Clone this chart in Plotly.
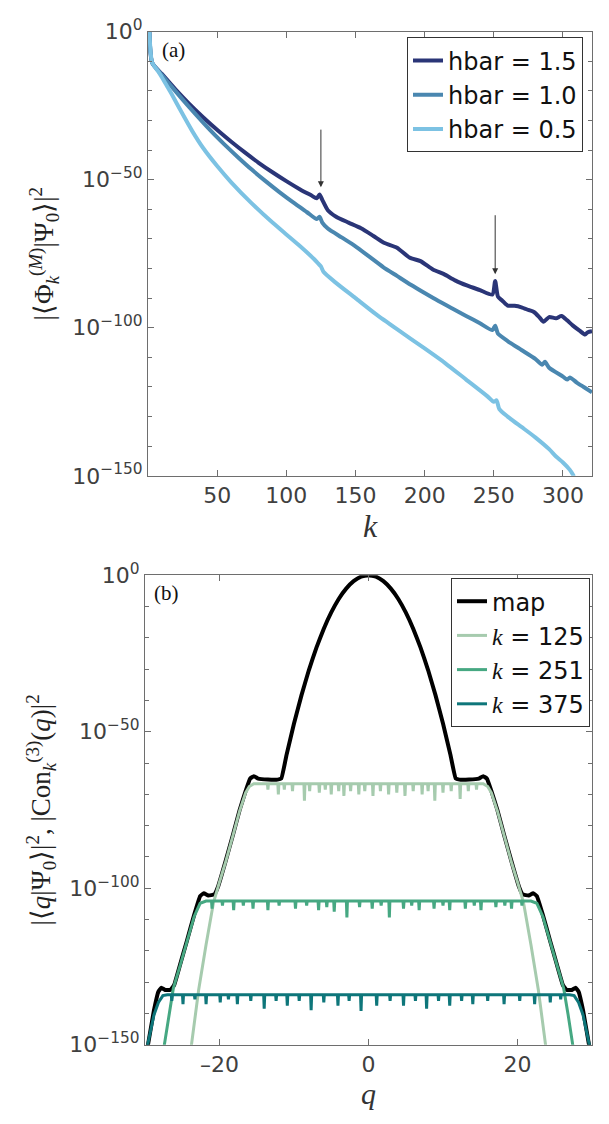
import plotly.graph_objects as go

# ---------------- Panel (a): log10 |<Phi_k^(M)|Psi_0>|^2 versus k ----------------
k_h15 = [1, 3, 10, 20, 30, 40, 52, 60, 70, 80, 90, 100, 110, 118, 122, 124, 126, 130, 136, 145,
         154, 163, 171, 180, 189, 197, 206, 214, 222, 231, 240, 249, 251, 253, 256, 260, 265, 270,
         275, 279, 283, 286, 290, 295, 299, 303, 307, 312, 316, 318, 321]
v_h15 = [0, -10.5, -14.3, -19.6, -24.5, -29.0, -34.0, -37.1, -40.8, -44.3, -47.5, -50.5, -53.3, -55.3,
         -56.3, -55.0, -56.8, -60.3, -62.5, -64.5, -66.4, -69.0, -71.4, -73.0, -76.3, -77.5, -80.3,
         -81.9, -84.0, -85.8, -87.3, -88.8, -84.2, -89.5, -90.8, -92.5, -92.6, -93.1, -94.0, -94.7,
         -96.5, -98.0, -96.4, -96.8, -96.0, -97.5, -99.2, -101.0, -102.3, -101.5, -101.2]

k_h10 = [1, 3, 10, 20, 30, 46, 55, 65, 75, 85, 95, 105, 115, 122, 124, 126, 130, 140, 150, 160,
         170, 180, 190, 200, 210, 220, 230, 240, 249, 251, 253, 260, 270, 280, 285, 287, 290, 300,
         303, 305, 310, 315, 321]
v_h10 = [0, -10.5, -14.6, -20.2, -25.6, -33.8, -38.0, -42.4, -46.6, -50.5, -54.2, -57.7, -61.0,
         -63.3, -62.5, -64.5, -66.5, -69.5, -72.5, -76.0, -79.5, -82.5, -85.5, -88.3, -91.0, -93.5,
         -96.0, -98.5, -100.8, -99.3, -102.0, -104.5, -107.5, -110.5, -112.5, -111.5, -113.5,
         -116.5, -117.5, -116.8, -118.5, -120.0, -121.8]

k_h05 = [1, 3, 7, 10, 14, 17, 24, 32, 40, 50, 60, 75, 90, 100, 110, 120, 123, 125, 127, 135, 150,
         165, 180, 200, 215, 230, 245, 250, 252, 254, 260, 270, 280, 290, 295, 300, 305, 308]
v_h05 = [0, -10.5, -13.2, -15.4, -18.6, -21.0, -27.0, -33.6, -39.4, -45.4, -50.8, -58.0, -64.5,
         -68.5, -72.5, -76.8, -78.3, -79.3, -81.2, -84.5, -90.0, -95.5, -100.5, -107.0, -112.0,
         -117.5, -123.0, -125.0, -124.5, -127.5, -130.0, -133.5, -137.0, -141.0, -143.5, -145.5,
         -148.0, -150.2]

series_a = [("hbar = 1.5", k_h15, v_h15, "#2a3577"),
            ("hbar = 1.0", k_h10, v_h10, "#4a87b0"),
            ("hbar = 0.5", k_h05, v_h05, "#7cc2e3")]

# arrows (k, log10 tail, log10 head)
arrows_a = [(125, -32.6, -52.6), (251, -61.5, -81.9)]

# ---------------- Panel (b): log10 |<q|Psi_0>|^2 and |Con_k^(3)(q)|^2 versus q ----------------
map_q = [-30, -29.6, -28.8, -28.2, -27.8, -27.3, -26.6, -26.1, -25.3, -24.4, -23.4, -22.6, -22.1,
         -21.5, -20.7, -20.2, -19.2, -18.2, -17.3, -16.5, -15.9, -15.4, -14.8, -13.5, -12.2, -11.7,
         -11, -10, -9, -8, -7, -6, -5, -4, -3, -2, -1, 0, 1, 2, 3, 4, 5, 6, 7, 8, 9, 10, 11, 11.7,
         12.2, 13.5, 14.8, 15.4, 15.9, 16.5, 17.3, 18.2, 19.2, 20.2, 20.7, 21.5, 22.1, 22.6, 23.4,
         24.4, 25.3, 26.1, 26.6, 27.3, 27.8, 28.2, 28.8, 29.6, 30]
map_v = [-154, -150, -139, -133, -131.8, -132.5, -132.5, -131, -124.5, -117, -108.5, -102.5, -101.6,
         -102.3, -102, -99.5, -91.5, -83, -75, -69, -65, -64.2, -65, -65.3, -65.3, -64.9,
         -57.4, -47.4, -38.4, -30.3, -23.2, -17.1, -11.9, -7.6, -4.3, -1.9, -0.47, 0, -0.47, -1.9,
         -4.3, -7.6, -11.9, -17.1, -23.2, -30.3, -38.4, -47.4, -57.4, -64.9,
         -65.3, -65.3, -65, -64.2, -65, -69, -75, -83, -91.5, -99.5, -102, -102.3, -101.6, -102.5,
         -108.5, -117, -124.5, -131, -132.5, -132.5, -131.8, -133, -139, -150, -154]

k125_q = [-24.2, -23.6, -22.8, -21.8, -20.8, -20.0, -19.2, -18.2, -17.3, -16.5, -16.0, -15.4,
          15.4, 16.0, 16.5, 17.3, 18.2, 19.2, 20.0, 20.8, 21.8, 22.8, 23.6, 24.2]
k125_v = [-158, -147, -132.5, -118, -104.5, -98, -91.8, -83.2, -75.3, -69.5, -67.5, -66.6,
          -66.6, -67.5, -69.5, -75.3, -83.2, -91.8, -98, -104.5, -118, -132.5, -147, -158]
k125_base = -66.6
k125_dip_q = [-13.5, -12.1, -11.3, -10.2, -8.6, -7.9, -6.6, -5.8, -5.0, -4.0, -3.3, -2.4, -1.3,
              -0.5, 0.6, 1.6, 2.7, 3.8, 4.9, 6.0, 7.2, 8.0, 8.9, 10.0, 11.1, 12.3, 13.4, 14.5]
k125_dip_v = [-68.5, -70, -68.5, -69, -72, -69, -69.5, -68.5, -70, -69, -70.5, -69, -70, -69,
              -70.5, -69, -70, -69.5, -70.5, -69, -70, -69, -72, -69.5, -69, -71.5, -69, -68.5]

k251_q = [-27.8, -27.4, -26.8, -26.2, -25.3, -24.4, -23.4, -22.6, -21.8,
          21.8, 22.6, 23.4, 24.4, 25.3, 26.2, 26.8, 27.4, 27.8]
k251_v = [-156, -150, -140.5, -132, -124.8, -117.2, -109, -104.8, -104.1,
          -104.1, -104.8, -109, -117.2, -124.8, -132, -140.5, -150, -156]
k251_base = -104.1
k251_dip_q = [-21.0, -19.6, -18.1, -16.8, -15.5, -13.5, -12.0, -9.8, -8.3, -6.7, -5.6, -4.6, -2.9,
              -1.2, 0.5, 1.7, 2.8, 4.7, 5.8, 6.8, 8.8, 10.0, 10.9, 13.0, 14.2, 15.1, 17.1, 18.3,
              19.2, 20.6]
k251_dip_v = [-106.5, -105.5, -107, -105.5, -106.5, -107, -105.5, -106.5, -105.5, -107, -106,
              -107.5, -109.3, -106, -106.5, -105.5, -109.3, -106.5, -105.5, -107, -106.5, -105.5,
              -107, -106.5, -105.5, -107, -106, -105.5, -106.5, -105.5]

k375_q = [-30.0, -29.5, -28.8, -28.2, -27.6, -27.0, 27.0, 27.6, 28.2, 28.8, 29.5, 30.0]
k375_v = [-154, -148, -140.5, -136.5, -134.3, -134.0, -134.0, -134.3, -136.5, -140.5, -148, -154]
k375_base = -134.0
k375_dip_q = [-26.4, -24.9, -23.3, -21.8, -19.9, -18.8, -17.6, -15.8, -14.0, -12.4, -10.9, -9.3,
              -7.7, -6.0, -4.1, -2.6, -1.0, 1.1, 2.9, 4.7, 6.3, 7.8, 9.4, 10.9, 12.5, 14.0, 16.0,
              18.2, 20.3, 22.3, 24.4, 25.8]
k375_dip_v = [-136, -137, -135.5, -137, -136.5, -135.5, -137, -136, -138.5, -136, -137.5, -136,
              -139, -136.5, -137.5, -136, -139.2, -137.5, -136, -137.5, -136, -138.5, -136, -137.5,
              -136, -137, -136, -137, -136, -137, -136.5, -135.5]


def with_dips(shape_q, shape_v, base, dip_q, dip_v, half=0.07):
    pts = list(zip(shape_q, shape_v))
    for q, v in zip(dip_q, dip_v):
        pts += [(q - half, base), (q, v), (q + half, base)]
    pts.sort(key=lambda p: p[0])
    return [p[0] for p in pts], [10 ** p[1] for p in pts]


series_b = [
    ("map", map_q, [10 ** v for v in map_v], "#000000", 4, "spline"),
    ("<span style='font-family:Liberation Serif'><i>k</i></span> = 125",
     *with_dips(k125_q, k125_v, k125_base, k125_dip_q, k125_dip_v), "#a6cbae", 3, "linear"),
    ("<span style='font-family:Liberation Serif'><i>k</i></span> = 251",
     *with_dips(k251_q, k251_v, k251_base, k251_dip_q, k251_dip_v), "#46a882", 3, "linear"),
    ("<span style='font-family:Liberation Serif'><i>k</i></span> = 375",
     *with_dips(k375_q, k375_v, k375_base, k375_dip_q, k375_dip_v), "#0e767a", 3, "linear"),
]

ytick_vals = [1e0, 1e-50, 1e-100, 1e-150]
ytick_text = ["10<sup>0</sup>", "10<sup>−50</sup>", "10<sup>−100</sup>", "10<sup>−150</sup>"]
minor_vals = [10.0 ** (-e) for e in range(10, 150, 10) if e % 50 != 0]

fig = go.Figure()
for name, kx, vy, col in series_a:
    fig.add_trace(go.Scatter(x=kx, y=[10 ** v for v in vy], mode="lines", name=name,
                             line=dict(color=col, width=4, shape="spline", smoothing=0.6),
                             xaxis="x", yaxis="y", legend="legend"))
for name, qx, vy, col, w, shp in series_b:
    fig.add_trace(go.Scatter(x=qx, y=vy, mode="lines", name=name,
                             line=dict(color=col, width=w, shape=shp, smoothing=0.3),
                             xaxis="x2", yaxis="y2", legend="legend2"))

W, H = 609, 1124
tickfont = dict(family="DejaVu Sans", size=22, color="#404040")
axis_common = dict(showline=True, linecolor="#6e6e6e", linewidth=1, mirror="ticks",
                   ticks="inside", ticklen=6, tickcolor="#6e6e6e", tickfont=tickfont,
                   showgrid=False, zeroline=False)
title_font = dict(family="Liberation Serif", size=27, color="#222222")

fig.update_layout(
    width=W, height=H, margin=dict(l=0, r=0, t=0, b=0),
    paper_bgcolor="white", plot_bgcolor="white",
    xaxis=dict(domain=[148 / W, 592 / W], range=[0, 321], tickvals=[50, 100, 150, 200, 250, 300],
               title=dict(text="<i>k</i>", font=dict(family="Liberation Serif", size=32,
                                                     color="#333333"), standoff=2),
               anchor="y", **axis_common),
    yaxis=dict(domain=[1 - 472 / H, 1 - 16 / H], type="log", range=[-150, 0],
               tickvals=ytick_vals, ticktext=ytick_text,
               minor=dict(tickmode="array", tickvals=minor_vals, ticks="inside", ticklen=4,
                          tickcolor="#6e6e6e"),
               title=dict(text="|⟨Φ<sub><i>k</i></sub><sup>(<i>M</i>)</sup>|Ψ<sub>0</sub>⟩|<sup>2</sup>",
                          font=title_font, standoff=10),
               anchor="x", **axis_common),
    xaxis2=dict(domain=[145 / W, 592 / W], range=[-30, 30], tickvals=[-20, 0, 20],
                ticktext=["–20", "0", "20"],
                title=dict(text="<i>q</i>", font=dict(family="Liberation Serif", size=30,
                                                      color="#333333"), standoff=6),
                anchor="y2", **axis_common),
    yaxis2=dict(domain=[1 - 1056 / H, 1 - 574 / H], type="log", range=[-150, 0],
                tickvals=ytick_vals, ticktext=ytick_text,
                minor=dict(tickmode="array", tickvals=minor_vals, ticks="inside", ticklen=4,
                           tickcolor="#6e6e6e"),
                title=dict(text="|⟨<i>q</i>|Ψ<sub>0</sub>⟩|<sup>2</sup>, |Con<sub><i>k</i></sub><sup>(3)</sup>(<i>q</i>)|<sup>2</sup>",
                           font=title_font, standoff=10),
                anchor="x2", **axis_common),
    legend=dict(x=583 / W, y=1 - 22 / H, xanchor="right", yanchor="top",
                bgcolor="white", bordercolor="#333333", borderwidth=1,
                font=dict(family="DejaVu Sans", size=24, color="#111111"),
                itemwidth=30, tracegroupgap=0),
    legend2=dict(x=590 / W, y=1 - 577 / H, xanchor="right", yanchor="top",
                 bgcolor="white", bordercolor="#333333", borderwidth=1,
                 font=dict(family="DejaVu Sans", size=24, color="#111111"),
                 itemwidth=30, tracegroupgap=0),
    showlegend=True,
)

# panel labels
fig.add_annotation(x=160 / W, y=1 - 35 / H, xref="paper", yref="paper", text="(a)",
                   showarrow=False, xanchor="left", yanchor="middle",
                   font=dict(family="Liberation Serif", size=21, color="#111111"))
fig.add_annotation(x=152 / W, y=1 - 592 / H, xref="paper", yref="paper", text="(b)",
                   showarrow=False, xanchor="left", yanchor="middle",
                   font=dict(family="Liberation Serif", size=21, color="#111111"))

# arrows in panel (a)
for kx, tail, head in arrows_a:
    fig.add_annotation(x=kx, y=head, ax=kx, ay=tail, xref="x", yref="y", axref="x", ayref="y",
                       text="", showarrow=True, arrowhead=2, arrowsize=1.2, arrowwidth=1,
                       arrowcolor="#333333")

fig.write_html("out.html")
